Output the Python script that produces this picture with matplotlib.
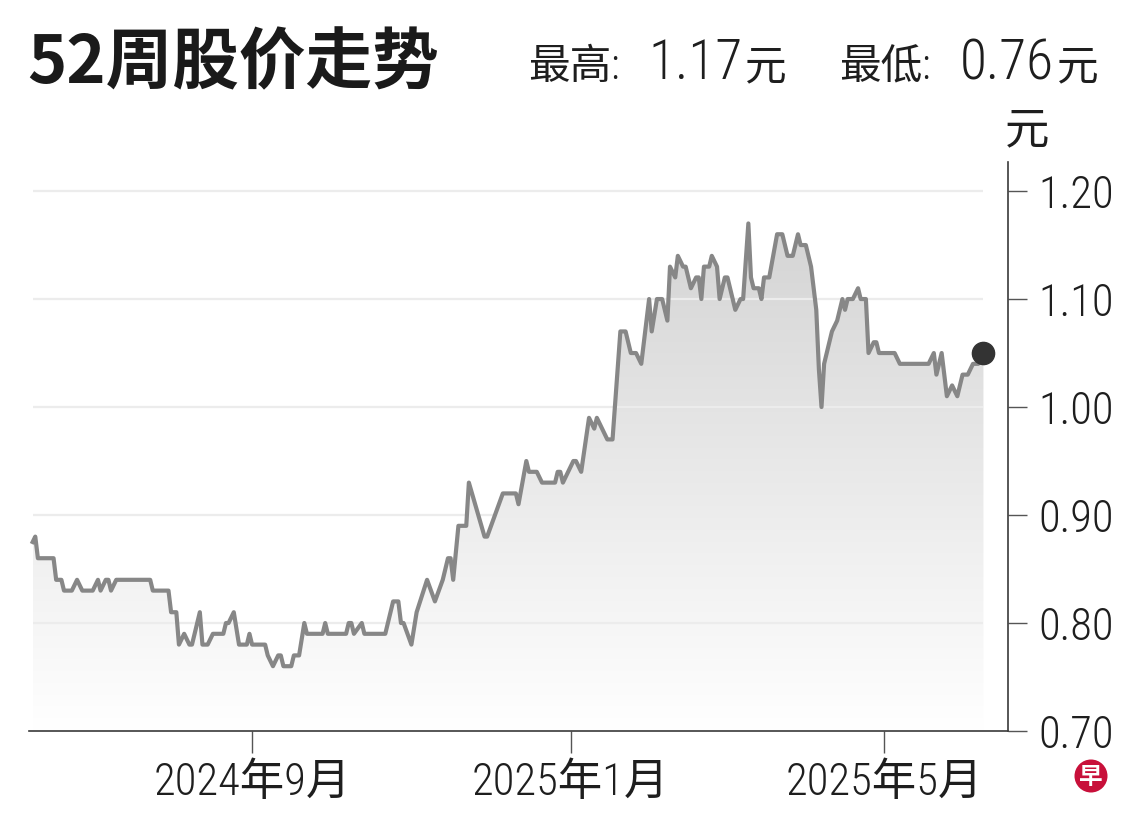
import numpy as np
import pandas as pd
import matplotlib
matplotlib.use("Agg")
import matplotlib.pyplot as plt
import matplotlib.dates as mdates
from matplotlib.patches import Polygon, Ellipse
from matplotlib.colors import LinearSegmentedColormap
from matplotlib import font_manager

# ---------------- data ----------------
BASE_DATE = "2024-09-01"
day_offsets = [
    -84, -83, -82, -76, -75, -73, -72, -69, -67, -65, -61, -59, -58, -56, -55, -54, -52,
    -39, -38, -32, -31, -29, -28, -26, -24, -23, -20, -19, -17, -15, -11, -10, -9, -7, -5,
    -2, -1, 0, 5, 6, 8, 10, 11, 12, 15, 16, 18, 20, 21, 27, 28, 29, 36, 37, 38, 39, 42, 43,
    51, 54, 56, 57, 58, 61, 63, 67, 70, 73, 75, 76, 77, 79, 82, 83, 89, 90, 96, 101, 102,
    105, 106, 109, 111, 116, 117, 118, 119, 123, 124, 126, 129, 131, 132, 136, 138, 141,
    143, 145, 147, 149, 152, 153, 155, 157, 159, 160, 162, 163, 165, 166, 168, 170, 171,
    172, 173, 175, 176, 178, 179, 181, 182, 185, 187, 188, 190, 191, 192, 194, 195, 196,
    198, 201, 203, 205, 207, 209, 210, 212, 214, 216, 217, 218, 219, 220, 222, 224, 226,
    227, 228, 230, 232, 233, 235, 236, 238, 239, 240, 246, 248, 259, 261, 262, 264, 265,
    266, 268, 270, 272, 274, 276, 278, 280,
]
prices = [
    0.875, 0.88, 0.86, 0.86, 0.84, 0.84, 0.83, 0.83, 0.84, 0.83, 0.83, 0.84, 0.83, 0.84, 0.84, 0.83, 0.84,
    0.84, 0.83, 0.83, 0.81, 0.81, 0.78, 0.79, 0.78, 0.78, 0.81, 0.78, 0.78, 0.79, 0.79, 0.80, 0.80, 0.81, 0.78,
    0.78, 0.79, 0.78, 0.78, 0.77, 0.76, 0.77, 0.77, 0.76, 0.76, 0.77, 0.77, 0.80, 0.79, 0.79, 0.80, 0.79, 0.79, 0.80, 0.80, 0.79, 0.80, 0.79,
    0.79, 0.82, 0.82, 0.80, 0.80, 0.78, 0.81, 0.84, 0.82, 0.84, 0.86, 0.86, 0.84, 0.89, 0.89, 0.93, 0.88, 0.88, 0.92, 0.92, 0.91,
    0.95, 0.94, 0.94, 0.93, 0.93, 0.94, 0.94, 0.93, 0.95, 0.95, 0.94, 0.99, 0.98, 0.99, 0.97, 0.97, 1.07,
    1.07, 1.05, 1.05, 1.04, 1.10, 1.07, 1.10, 1.10, 1.08, 1.13, 1.12, 1.14, 1.13, 1.13, 1.11, 1.12, 1.12,
    1.10, 1.13, 1.13, 1.14, 1.13, 1.10, 1.12, 1.12, 1.09, 1.10, 1.10, 1.17, 1.12, 1.11, 1.11, 1.10, 1.12,
    1.12, 1.16, 1.16, 1.14, 1.14, 1.16, 1.15, 1.15, 1.13, 1.09, 1.035, 1.00, 1.04, 1.05, 1.07, 1.08, 1.10,
    1.09, 1.10, 1.10, 1.11, 1.10, 1.10, 1.05, 1.06, 1.06, 1.05, 1.05, 1.04, 1.04, 1.05, 1.03, 1.05, 1.03,
    1.01, 1.02, 1.01, 1.03, 1.03, 1.04, 1.04, 1.05,
]
y_ticks = [0.70, 0.80, 0.90, 1.00, 1.10, 1.20]
x_tick_dates = ["2024-09-01", "2025-01-01", "2025-05-01"]
x_tick_labels = ["2024年9月", "2025年1月", "2025年5月"]
title_text = "52周股价走势"
high_label = "最高:"
low_label = "最低:"
unit_text = "元"

# ---------------- fonts ----------------
available = {f.name for f in font_manager.fontManager.ttflist}
narrow = next((n for n in ["Liberation Sans Narrow", "Roboto Condensed", "Liberation Sans", "DejaVu Sans"]
               if n in available), "DejaVu Sans")
plt.rcParams["font.family"] = [narrow, "Noto Sans CJK SC", "DejaVu Sans"]
plt.rcParams["font.weight"] = "light"
CJK = ["Noto Sans CJK SC", "DejaVu Sans"]

TXT = "#1e1e1e"

# ---------------- figure ----------------
W, H = 1140, 826
fig = plt.figure(figsize=(W / 100, H / 100), dpi=100)
fig.patch.set_facecolor("white")

ax_left, ax_right = 29 / W, 1008 / W
ax_bottom, ax_top = 1 - 731 / H, 1 - 162 / H
ax = fig.add_axes([ax_left, ax_bottom, ax_right - ax_left, ax_top - ax_bottom])
ax.set_facecolor("white")

dates = pd.Timestamp(BASE_DATE) + pd.to_timedelta(day_offsets, unit="D")
x = mdates.date2num(dates.to_pydatetime())
y = np.array(prices)

ymin, ymax = 0.70, 1.2269
base = mdates.date2num(pd.Timestamp(BASE_DATE).to_pydatetime())
xmin, xmax = base - 85.4, base + 289.4

# gradient fill under the line
poly = np.vstack([[x[0], ymin], np.column_stack([x, y]), [x[-1], ymin]])
patch = Polygon(poly, closed=True, facecolor="none", edgecolor="none")
ax.add_patch(patch)
cmap = LinearSegmentedColormap.from_list("g", ["#ffffff", "#d4d4d4"])
grad = np.linspace(0, 1, 256).reshape(-1, 1)
im = ax.imshow(grad, extent=[x[0], x[-1], ymin, max(prices)], origin="lower",
               cmap=cmap, aspect="auto", zorder=1, interpolation="bicubic")
im.set_clip_path(patch)

# faint grid lines over the data span
ax.hlines([t for t in y_ticks if t > ymin], x[0], x[-1], colors="#ececec",
          linewidth=1.6, zorder=2)

# price line and last point
ax.plot(x, y, color="#878787", linewidth=3.0, solid_joinstyle="round", zorder=3)
ax.plot([x[-1]], [y[-1]], "o", color="#333333", markersize=16, zorder=4)

ax.set_xlim(xmin, xmax)
ax.set_ylim(ymin, ymax)

# spines
for s in ["top", "left"]:
    ax.spines[s].set_visible(False)
for s in ["right", "bottom"]:
    ax.spines[s].set_color("#3a3a3a")
    ax.spines[s].set_linewidth(1.2)

ax.yaxis.tick_right()
ax.set_yticks(y_ticks)
ax.set_yticklabels([f"{v:.2f}" for v in y_ticks])
ax.tick_params(axis="y", direction="out", length=14, width=1.0, color="#555555",
               labelsize=32, labelcolor=TXT, pad=8)
ax.set_xticks([mdates.date2num(pd.Timestamp(d).to_pydatetime()) for d in x_tick_dates])
ax.set_xticklabels(x_tick_labels)
ax.tick_params(axis="x", direction="out", length=16, width=1.0, color="#555555",
               labelsize=32, labelcolor=TXT, pad=6)

# title
fig.text(27 / W, 1 - 64 / H, title_text, fontsize=48, fontweight="heavy",
         family=CJK, color="#1a1a1a", va="center", ha="left")

# header: highest / lowest price
renderer = fig.canvas.get_renderer()
base_y = 1 - 79 / H
for lab, val, x_lab, x_val in [
    (high_label, max(prices), 528, 648),
    (low_label, min(prices), 839, 960),
]:
    fig.text(x_lab / W, base_y, lab, fontsize=30, color=TXT, va="baseline", ha="left")
    num = fig.text(x_val / W, base_y, f"{val:.2f}", fontsize=40, color=TXT,
                   va="baseline", ha="left")
    x_end = num.get_window_extent(renderer).x1
    fig.text((x_end + 3) / W, base_y, unit_text, fontsize=30, color=TXT, va="baseline",
             ha="left", family=CJK)

# unit label above the y axis
fig.text(1027 / W, 1 - 130 / H, unit_text, fontsize=32, color=TXT, va="center", ha="center",
         family=CJK)

# logo
cx, cy, r = 1091, 776, 16.5
fig.patches.append(Ellipse((cx / W, 1 - cy / H), 2 * r / W, 2 * r / H, transform=fig.transFigure,
                           facecolor="#c8103a", edgecolor="none"))
fig.text(cx / W, 1 - (cy + 1) / H, "早", fontsize=17, fontweight="bold", color="white",
         ha="center", va="center", family=["Noto Sans CJK SC"])

fig.savefig("out.png", dpi=100, facecolor="white")
